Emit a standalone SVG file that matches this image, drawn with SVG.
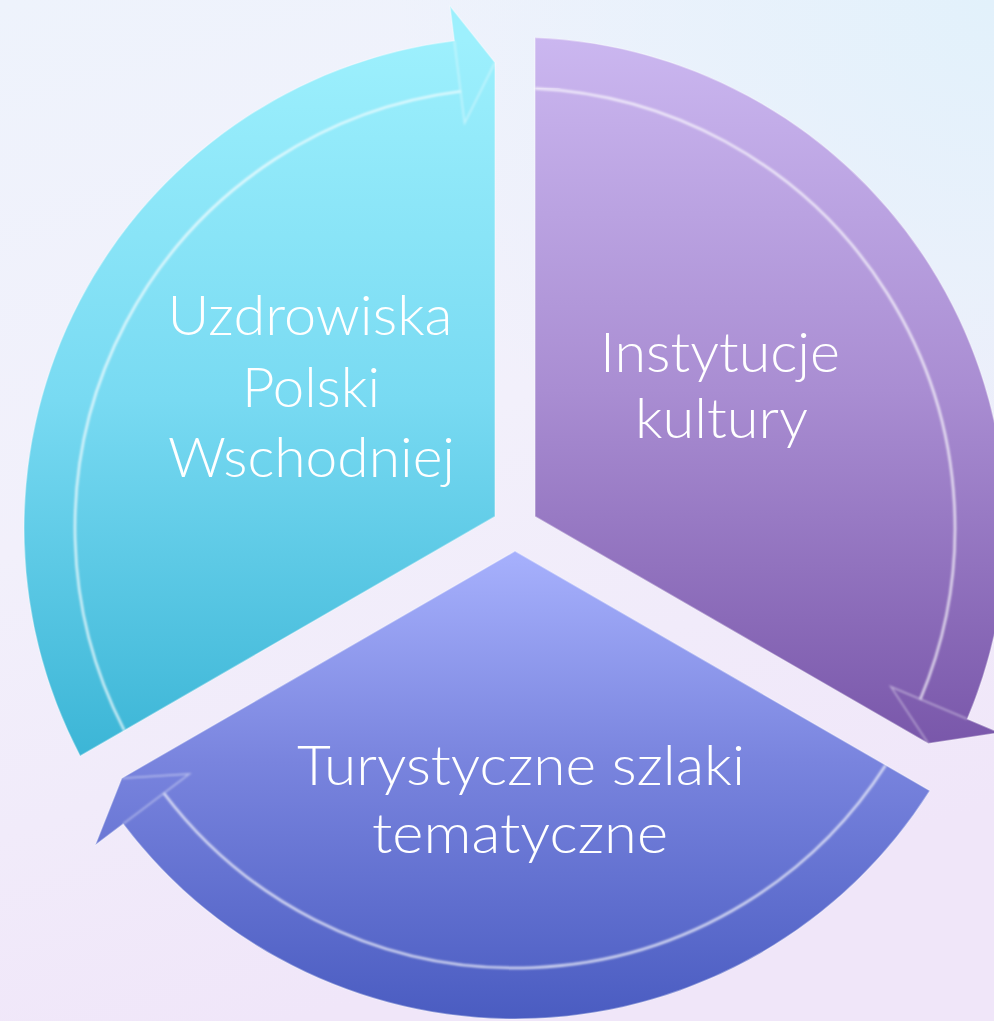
<svg xmlns="http://www.w3.org/2000/svg" width="994" height="1021" viewBox="0 0 994 1021">
  <defs>
    <linearGradient id="bg" x1="0" y1="0" x2="0.3" y2="1">
      <stop offset="0" stop-color="#EEF3FC"/>
      <stop offset="0.5" stop-color="#F2F0FB"/>
      <stop offset="1" stop-color="#F0E6F9"/>
    </linearGradient>
    <radialGradient id="bgtr" cx="1" cy="0" r="0.6">
      <stop offset="0" stop-color="#E2F1FB" stop-opacity="1"/>
      <stop offset="1" stop-color="#E2F1FB" stop-opacity="0"/>
    </radialGradient>
    <linearGradient id="gCyan" gradientUnits="userSpaceOnUse" x1="0" y1="40" x2="0" y2="760">
      <stop offset="0" stop-color="#9DF0FD"/>
      <stop offset="0.5" stop-color="#78DAF2"/>
      <stop offset="1" stop-color="#3BB5D6"/>
    </linearGradient>
    <linearGradient id="gPurple" gradientUnits="userSpaceOnUse" x1="0" y1="37" x2="0" y2="745">
      <stop offset="0" stop-color="#CBB7F0"/>
      <stop offset="0.5" stop-color="#A98DD2"/>
      <stop offset="1" stop-color="#7957AA"/>
    </linearGradient>
    <linearGradient id="gBlue" gradientUnits="userSpaceOnUse" x1="0" y1="550" x2="0" y2="1020">
      <stop offset="0" stop-color="#A7B1FD"/>
      <stop offset="0.45" stop-color="#7984DE"/>
      <stop offset="1" stop-color="#4A5CC1"/>
    </linearGradient>
    <filter id="soft" x="-5%" y="-5%" width="110%" height="110%">
      <feGaussianBlur stdDeviation="0.8"/>
    </filter>
  </defs>
  <style>
    .lbl { font-family: "Lato", "Open Sans", "Liberation Sans", sans-serif; font-weight: 300; font-size: 56px; fill: #FFFFFF; text-anchor: middle; }
    .hl { fill: none; stroke: #FFFFFF; stroke-width: 2.5; stroke-opacity: 0.75; filter: url(#soft); }
    .hl2 { fill: none; stroke: #FFFFFF; stroke-width: 1.5; stroke-opacity: 0.45; filter: url(#soft); }
    .edge { stroke: #FFFFFF; stroke-opacity: 0.35; stroke-width: 1.5; stroke-linejoin: round; }
  </style>

  <rect x="0" y="0" width="994" height="1021" fill="url(#bg)"/>
  <rect x="0" y="0" width="994" height="1021" fill="url(#bgtr)"/>

  <g id="node-uzdrowiska">
    <path class="edge" fill="url(#gCyan)" d="M495,516.45 L80.13,755.98 A491,491 0 0 1 454.31,40.77 L449.99,6.03 L495,62.43 Z"/>
    <path class="hl" d="M124.33,730.46 A440,440 0 0 1 460.62,91.37"/>
    <path class="hl2" d="M454.31,40.77 L464.57,123.13 L495,62.43"/>
    <text class="lbl" x="310" y="335" textLength="285" lengthAdjust="spacingAndGlyphs">Uzdrowiska</text>
    <text class="lbl" x="311" y="407" textLength="138" lengthAdjust="spacingAndGlyphs">Polski</text>
    <text class="lbl" x="311.5" y="477" textLength="287" lengthAdjust="spacingAndGlyphs">Wschodniej</text>
  </g>

  <g id="node-instytucje">
    <path class="edge" fill="url(#gPurple)" d="M535,516.45 L535,37.41 A491,491 0 0 1 967.30,719.06 L999.55,732.68 L928.22,743.45 Z"/>
    <path class="hl" d="M535,88.45 A440,440 0 0 1 920.32,699.21"/>
    <path class="hl2" d="M535,88.45 L560,88.9"/>
    <path class="hl2" d="M967.30,719.06 L890.85,686.76 L928.22,743.45"/>
    <text class="lbl" x="720" y="372" textLength="240" lengthAdjust="spacingAndGlyphs">Instytucje</text>
    <text class="lbl" x="721.5" y="438" textLength="173" lengthAdjust="spacingAndGlyphs">kultury</text>
  </g>

  <g id="node-turystyczne">
    <path class="edge" fill="url(#gBlue)" d="M515,551.09 L929.86,790.63 A491,491 0 0 1 123.22,823.95 L95.29,845.05 L121.77,778.14 Z"/>
    <path class="hl" d="M885.66,765.08 A440,440 0 0 1 163.91,793.21"/>
    <path class="hl2" d="M123.22,823.95 L189.44,773.92 L121.77,778.14"/>
    <text class="lbl" x="521" y="785" textLength="448" lengthAdjust="spacingAndGlyphs">Turystyczne szlaki</text>
    <text class="lbl" x="520" y="853" textLength="296" lengthAdjust="spacingAndGlyphs">tematyczne</text>
  </g>
</svg>
